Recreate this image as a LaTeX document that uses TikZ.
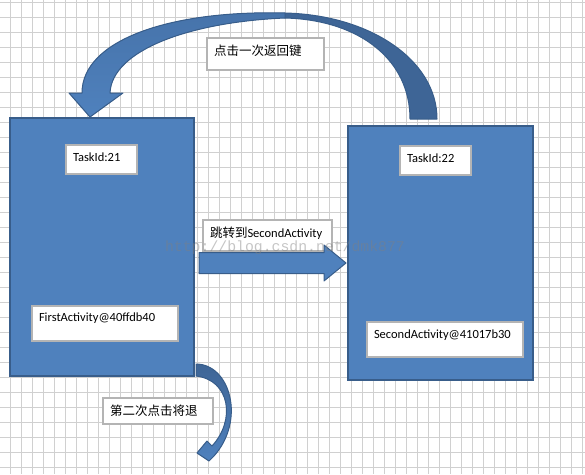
\documentclass[tikz,border=0pt]{standalone}
\usepackage{fontspec}
\setmainfont{Carlito}
\newfontfamily\cjk{Noto Sans CJK SC}
\newfontfamily\markfont{Liberation Mono}
\usetikzlibrary{positioning,calc}
\definecolor{boxblue}{HTML}{4F81BD}
\definecolor{boxedge}{HTML}{385D8A}
\definecolor{darkblue}{HTML}{3E6596}
\definecolor{midblue}{HTML}{4673AA}
\definecolor{gridgray}{HTML}{D0D0D0}
\definecolor{lblgray}{HTML}{B4B4B4}

\begin{document}
\begin{tikzpicture}[x=1pt,y=-1pt,
   every node/.style={font=\fontsize{12.5}{14}\selectfont},
   actbox/.style={draw=boxedge,fill=boxblue,line width=2pt,outer sep=0pt,inner sep=0pt},
   lbl/.style={draw=lblgray,fill=white,line width=1.2pt,outer sep=0pt,
     inner xsep=7pt,inner ysep=0pt,align=left},
   blockarrow/.style={draw=boxedge,fill=boxblue,line width=1pt,line join=round}]
  \useasboundingbox (0,0) rectangle (585,474);
  % background grid
  \foreach \gx in {0,...,52}
    \draw[gridgray,line width=1pt] ({10.3+11*\gx},0) -- ({10.3+11*\gx},474);
  \foreach \gy in {0,...,31}
    \draw[gridgray,line width=1pt] (0,{2.3+15*\gy}) -- (585,{2.3+15*\gy});

  \node[actbox,anchor=north west,minimum width=184pt,minimum height=258pt] (first) at (10,118) {};
  \node[actbox,minimum width=185pt,minimum height=254pt] (second)
    [below right=8pt and 154pt of first.north east] {};

  \node[lbl,text width=57pt,text height=16.5pt,text depth=12.5pt] (tid1)
    [below right=27pt and 56pt of first.north west] {TaskId:21};
  \node[lbl,text width=57pt,text height=16.5pt,text depth=12.5pt] (tid2)
    [below right=20pt and 52pt of second.north west] {TaskId:22};
  \node[lbl,text width=132pt,text height=15.5pt,text depth=19.5pt] (act1)
    [below right=188pt and 22pt of first.north west] {FirstActivity@40ffdb40};
  \node[lbl,text width=142pt,text height=16.3pt,text depth=18.7pt] (act2)
    [below right=196pt and 19pt of second.north west] {SecondActivity@41017b30};
  \node[lbl,anchor=north west,text width=103pt,text height=17.5pt,text depth=14.5pt] (back1)
    at (207,38) {\cjk 点击一次返回键};
  \node[lbl,text width=115pt,text height=17.5pt,text depth=13.5pt] (jump)
    [below right=102pt and 9pt of first.north east] {{\cjk 跳转到}SecondActivity};
  \node[lbl,text width=96pt,text height=17.5pt,text depth=8.5pt] (back2)
    [below right=22pt and 93pt of first.south west] {\cjk 第二次点击将退};

  % jump arrow
  \coordinate (jumpS) at ($(first.east)+(5,16)$);
  \coordinate (jumpE) at ($(second.west)+(-2,10)$);
  \draw[blockarrow] (jumpS) ++(0,-10.5) -- ++(125,0) -- ++(0,-7.5) -- (jumpE)
    -- ++(-22,18) -- ++(0,-7.5) -- ++(-125,0) -- cycle;

  % back key, first press
  \draw[blockarrow,fill=darkblue] (437,119) .. controls (437,60) and (370,15) .. (285,13)
    -- (285,18) .. controls (360,20) and (410,60) .. (410,119) -- cycle;
  \draw[blockarrow,top color=midblue,bottom color=boxblue] (285,13)
    .. controls (170,10) and (82,40) .. (82,93) -- (69,93) -- (90,117) -- (123,93)
    -- (110,93) .. controls (112,50) and (190,22) .. (285,18) -- cycle;

  % back key, second press
  \draw[blockarrow,top color=darkblue,bottom color=boxblue] (196,364)
    .. controls (230,364) and (246,420) .. (214,456) -- (209,461) -- (197,453)
    -- (207,441) -- (212,446) .. controls (236,420) and (230,380) .. (196,376) -- cycle;

  \node[font=\markfont\fontsize{14.8}{16}\selectfont,text=gray,opacity=.45] (mark)
    at (285,248) {http://blog.csdn.net/dmk877};
\end{tikzpicture}
\end{document}
